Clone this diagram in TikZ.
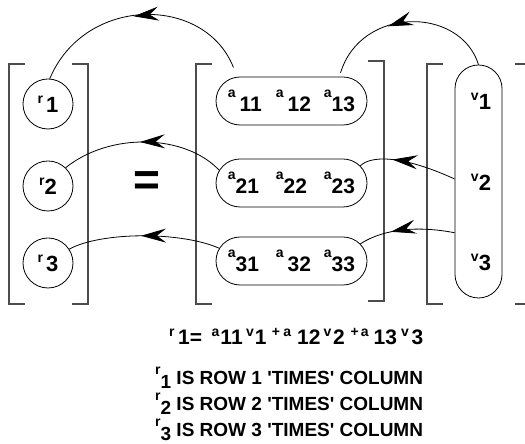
\documentclass[tikz,border=0pt]{standalone}
\usepackage{fontspec}
\setmainfont{Liberation Sans}
\usetikzlibrary{shapes.misc,decorations.markings,arrows.meta}
\newcommand\Lt[2][9pt]{\raisebox{#1}{\fontsize{14}{14}\selectfont #2}}
\newcommand\Ent[2]{\makebox[48pt][l]{#1#2}}
\newcommand\hs[1]{\hspace{#1pt}}
\begin{document}
\begin{tikzpicture}[x=1pt,y=1pt,
  brk/.style={draw=black!70, line width=1.1pt},
  rn/.style={draw, circle, line width=0.8pt, minimum size=50pt, inner sep=0pt, font=\fontsize{22}{22}\selectfont\bfseries},
  an/.style={draw, rounded rectangle, line width=0.8pt, minimum width=151pt, minimum height=48pt, inner sep=0pt, font=\fontsize{21}{21}\selectfont\bfseries},
  vn/.style={draw, rectangle, rounded corners=23.5pt, line width=0.8pt, minimum width=47pt, minimum height=233pt, inner sep=0pt},
  lab/.style={inner sep=0pt, font=\fontsize{22}{22}\selectfont\bfseries},
  txt/.style={anchor=base west, inner sep=0pt, font=\fontsize{19}{19}\selectfont\bfseries},
  conn/.style={draw, line width=0.8pt,
    decoration={markings, mark=at position #1 with {\arrow{Stealth[length=25pt,width=14pt,inset=9pt]}}},
    postaction={decorate}}
]
\useasboundingbox (0,0) rectangle (525,444);
% brackets
\draw[brk] (25,380) -- (9,380) -- (9,140) -- (25,140);
\draw[brk] (72,380) -- (88,380) -- (88,140) -- (72,140);
\draw[brk] (212,380) -- (196,380) -- (196,140) -- (212,140);
\draw[brk] (368,383) -- (384,383) -- (384,143) -- (368,143);
\draw[brk] (443,380) -- (427,380) -- (427,140) -- (443,140);
\draw[brk] (515,380) -- (525,380);
\draw[brk] (515,140) -- (525,140);
% r vector
\node[rn] (R1) at (48,340) {\Lt{r}\hs{3}1};
\node[rn] (R2) at (48,258) {\Lt{r}2};
\node[rn] (R3) at (48,181) {\Lt{r}\hs{3}3};
% equals
\node[inner sep=0pt, font=\fontsize{46}{46}\selectfont\bfseries] (EQ) at (147,260) {=};
% matrix rows
\node[an] (A1) at (291.5,343) {\Ent{\Lt[14pt]{a}\hs{4}}{11}\Ent{\Lt[14pt]{a}\hs{4}}{12}\Lt[14pt]{a}13};
\node[an] (A2) at (291.5,261) {\Ent{\Lt[14pt]{a}}{21}\Ent{\Lt[14pt]{a}}{22}\Lt[14pt]{a}23};
\node[an] (A3) at (291.5,183) {\Ent{\Lt[14pt]{a}}{31}\Ent{\Lt[14pt]{a}\hs{4}}{32}\Lt[14pt]{a}33};
% v vector
\node[vn] (V) at (478.5,262.5) {};
\node[lab] (v1) at (481,343) {\Lt{v}1};
\node[lab] (v2) at (481,262) {\Lt{v}2};
\node[lab] (v3) at (481,182) {\Lt{v}3};
% connectors
\draw[conn=0.54, shorten <=10pt] (A1.156) .. controls (205,449) and (85,449) .. (R1.86);
\draw[conn=0.52] (A2.170) .. controls (185,310) and (110,312) .. (R2.46);
\draw[conn=0.52] (A3.170) .. controls (180,213) and (100,212) .. (R3.33);
\draw[conn=0.6, shorten >=4pt] (V.north) .. controls (460,438) and (361,438) .. (A1.27);
\draw[conn=0.66] (V.174) .. controls (400,290) and (370,288) .. (A2.14);
\draw[conn=0.66] (V.245.5) .. controls (420,218) and (385,216) .. (A3.14);
% text
\node[txt, font=\fontsize{21}{21}\selectfont\bfseries] (E) at (169,99) {\Lt[8.3pt]{r}\hs{3.6}1=\hs{9.5}\Lt[8.3pt]{a}\hs{1}11\hs{3.5}\Lt[8.3pt]{v}\hs{1}1\hs{5.3}\Lt[8.3pt]{+}\hs{3.3}\Lt[8.3pt]{a}\hs{6}12\hs{3}\Lt[8.3pt]{v}\hs{1.7}2\hs{6}\Lt[8.3pt]{+}\hs{2}\Lt[8.3pt]{a}\hs{5}13\hs{4}\Lt[8.3pt]{v}\hs{2.7}3};
\node[txt] (T1) at (155,59) {\Lt[10pt]{r}\raisebox{-4pt}{1} IS ROW 1 \textquotesingle TIMES\textquotesingle\ COLUMN};
\node[txt] (T2) at (155,33) {\Lt[10pt]{r}\raisebox{-4pt}{2} IS ROW 2 \textquotesingle TIMES\textquotesingle\ COLUMN};
\node[txt] (T3) at (155,7.5) {\Lt[10pt]{r}\raisebox{-4pt}{3} IS ROW 3 \textquotesingle TIMES\textquotesingle\ COLUMN};
\end{tikzpicture}
\end{document}
